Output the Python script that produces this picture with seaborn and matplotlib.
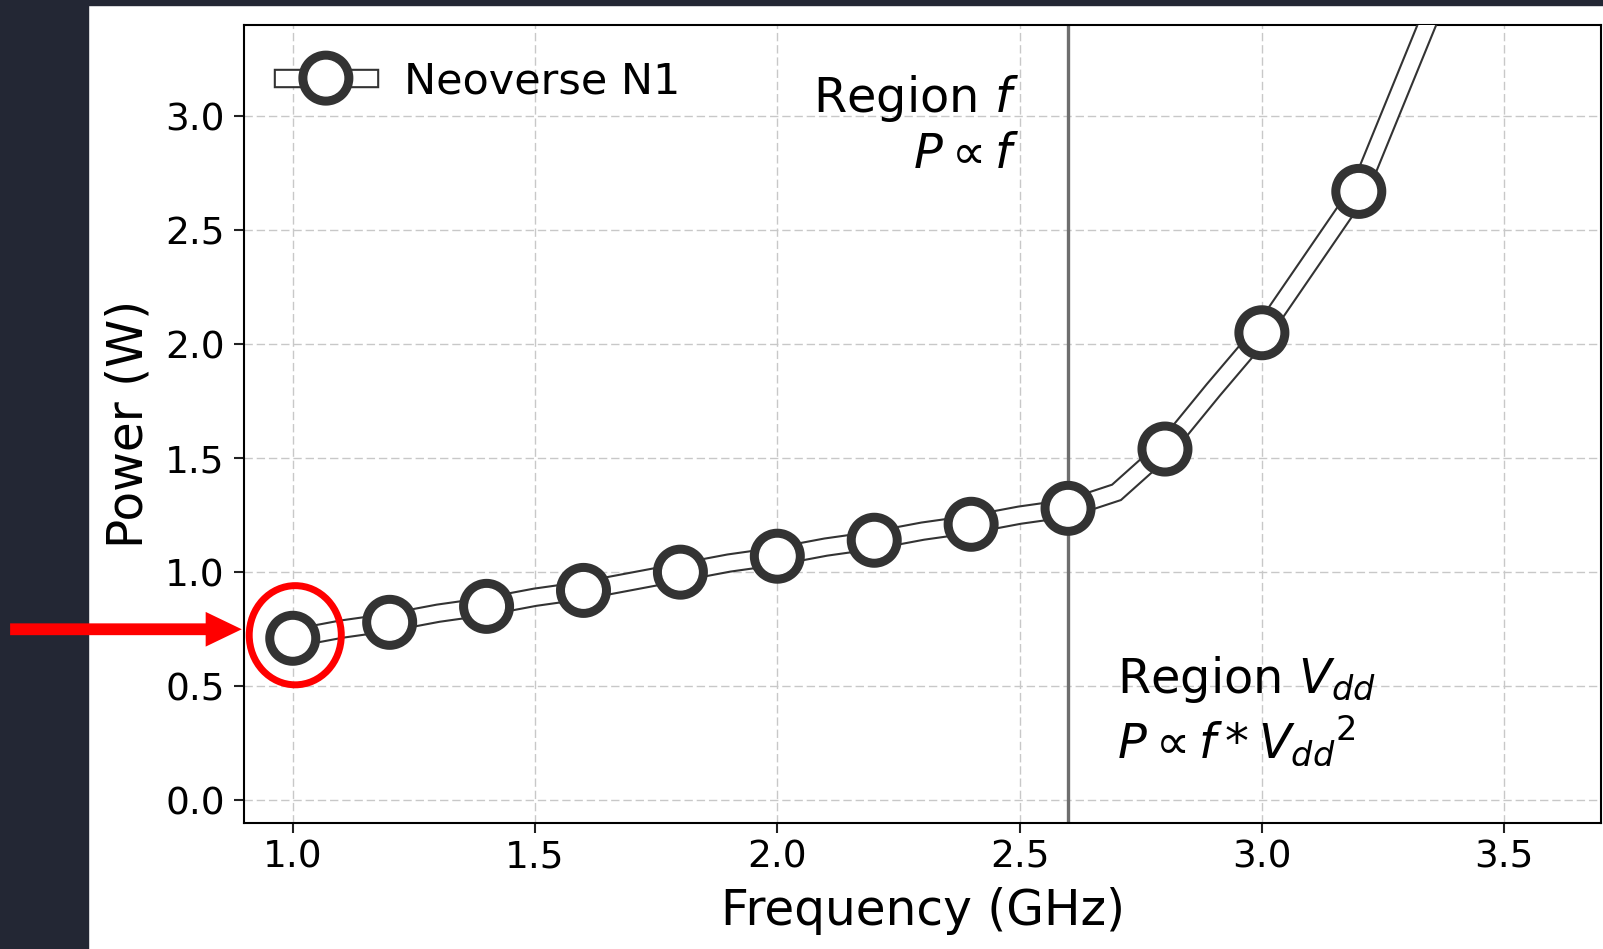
import matplotlib
matplotlib.use("Agg")
import matplotlib.pyplot as plt
import matplotlib.patheffects as pe
import matplotlib.transforms as mtransforms
from matplotlib.patches import Ellipse, Rectangle
import seaborn as sns

# measured power curve (line every 0.1 GHz, markers every 0.2 GHz)
freq_ghz = [1.0, 1.1, 1.2, 1.3, 1.4, 1.5, 1.6, 1.7, 1.8, 1.9, 2.0, 2.1, 2.2,
            2.3, 2.4, 2.5, 2.6, 2.7, 2.8, 2.9, 3.0, 3.1, 3.2, 3.3, 3.4]
power_w = [0.71, 0.75, 0.78, 0.82, 0.85, 0.89, 0.92, 0.96, 1.00, 1.04, 1.07,
           1.11, 1.14, 1.18, 1.21, 1.25, 1.28, 1.35, 1.54, 1.80, 2.05, 2.36,
           2.67, 3.19, 3.71]
series_label = "Neoverse N1"
boundary_ghz = 2.6
x_ticks = [1.0, 1.5, 2.0, 2.5, 3.0, 3.5]
y_ticks = [0.0, 0.5, 1.0, 1.5, 2.0, 2.5, 3.0]

sns.set_theme(style="ticks", rc={"text.color": "black",
                                 "axes.labelcolor": "black",
                                 "xtick.color": "black",
                                 "ytick.color": "black"})
plt.rcParams["font.family"] = ["DejaVu Sans"]
plt.rcParams["mathtext.fontset"] = "dejavusans"

fig = plt.figure(figsize=(16.03, 9.49), dpi=100)
fig.patch.set_facecolor("white")

# dark slide background around the chart
bg = "#232734"
fig.add_artist(Rectangle((0, 0), 88 / 1603, 1, transform=fig.transFigure,
                         color=bg, zorder=-10))
fig.add_artist(Rectangle((0, 1 - 5 / 949), 1, 5 / 949, transform=fig.transFigure,
                         color=bg, zorder=-10))

ax = fig.add_axes([0.1524, 0.1328, 0.8464, 0.8409])
ax.set_facecolor("white")

outline = [pe.Stroke(linewidth=14, foreground="#333333"), pe.Normal()]
sns.lineplot(x=freq_ghz, y=power_w, ax=ax, color="white", linewidth=11,
             marker="o", markersize=25.6, markevery=2,
             markerfacecolor="white", markeredgecolor="white",
             markeredgewidth=1, path_effects=outline, label=series_label,
             solid_capstyle="projecting", solid_joinstyle="miter", zorder=3)

ax.axvline(boundary_ghz, color="#6e6e6e", lw=2.4, zorder=2)

ax.set_xlim(0.9, 3.7)
ax.set_ylim(-0.1, 3.4)
ax.set_xticks(x_ticks)
ax.set_yticks(y_ticks)
ax.grid(True, color="#c8c8c8", lw=1.0, linestyle=(0, (6, 2.8)), zorder=0)
ax.set_axisbelow(True)

for s in ax.spines.values():
    s.set_color("black")
    s.set_linewidth(1.5)
ax.tick_params(labelsize=27, length=7, width=1.5, color="#222222", pad=5)
ax.tick_params(axis="y", pad=7)

ax.set_xlabel("Frequency (GHz)", fontsize=35, labelpad=8)
ax.set_ylabel("Power (W)", fontsize=35, labelpad=9)

ax.text(boundary_ghz - 0.1, 3.19, "Region $f$\n$P \\propto f$", fontsize=34.5,
        ha="right", va="top", multialignment="right")
ax.text(boundary_ghz + 0.1, 0.64, "Region $V_{dd}$\n$P \\propto f * {V_{dd}}^2$",
        fontsize=34.5, ha="left", va="top", multialignment="left")

ax.legend(loc="upper left", bbox_to_anchor=(0.003, 0.999), frameon=False,
          fontsize=31, handlelength=2.0, handletextpad=0.82, borderaxespad=0.4)

# red highlight of the first operating point
ring_pos = mtransforms.offset_copy(ax.transData, fig=fig, x=1.8, y=2.2,
                                   units="points")
ax.add_patch(Ellipse((freq_ghz[0], power_w[0]), width=0.19, height=0.435,
                     transform=ring_pos, fill=False, ec="red", lw=5,
                     clip_on=False, zorder=6))
tip = mtransforms.offset_copy(ax.transData, fig=fig, x=-36.7, y=6.5,
                              units="points")
ax.annotate("", xy=(freq_ghz[0], power_w[0]), xycoords=tip,
            xytext=(-166.8, 0), textcoords="offset points",
            arrowprops=dict(arrowstyle="simple,head_length=1.04,head_width=1.0,tail_width=0.34",
                            mutation_scale=25, color="red", lw=0,
                            shrinkA=0, shrinkB=0),
            annotation_clip=False, zorder=7)

fig.savefig("out.png", dpi=100)
